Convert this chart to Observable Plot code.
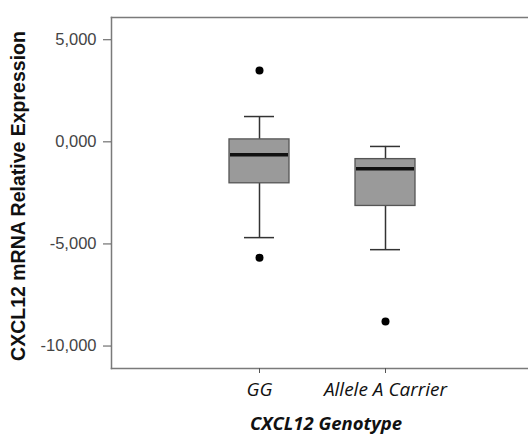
<!DOCTYPE html>
<html><head><meta charset="utf-8">
<script src="https://cdn.jsdelivr.net/npm/d3@7"></script>
<script src="https://cdn.jsdelivr.net/npm/@observablehq/plot@0.6"></script>
<style>body{margin:0;background:#fff;overflow:hidden}</style>
</head><body><div id="c"></div>
<script>
const groups = ["GG", "Allele A Carrier"];
const q1 = [-2030, -3140];
const median = [-635, -1320];
const q3 = [120, -845];
const whiskerLow = [-4690, -5280];
const whiskerHigh = [1240, -225];
const outlierGroup = ["GG", "GG", "Allele A Carrier"];
const outlierValue = [3500, -5670, -8800];
const yTicks = [5000, 0, -5000, -10000];
const yTickLabels = ["5,000", "0,000", "-5,000", "-10,000"];
const xTitle = "CXCL12 Genotype";
const yTitle = "CXCL12 mRNA Relative Expression";

const rows = groups.map((g, i) => ({g, q1: q1[i], med: median[i], q3: q3[i], lo: whiskerLow[i], hi: whiskerHigh[i]}));
const outs = outlierGroup.map((g, i) => ({g, v: outlierValue[i]}));

const frameStyle = {stroke: "#7a7a7a", strokeWidth: 1.5};
const chart = Plot.plot({
  width: 528, height: 435,
  marginTop: 17, marginBottom: 67, marginLeft: 111, marginRight: 0,
  style: {background: "#fff", fontFamily: "'Liberation Sans', Arial, sans-serif"},
  x: {domain: groups, range: [229, 415], paddingInner: 0.524, paddingOuter: 0, axis: null},
  y: {domain: [-11100, 6090], axis: null},
  marks: [
    Plot.frame({anchor: "left", ...frameStyle}),
    Plot.frame({anchor: "top", ...frameStyle}),
    Plot.frame({anchor: "bottom", ...frameStyle}),
    Plot.axisY({ticks: yTicks, tickFormat: d => yTickLabels[yTicks.indexOf(d)], tickSize: 8, tickPadding: 7,
      fontSize: 16.5, stroke: "#555", fill: "#444", label: null}),
    Plot.axisX({tickSize: 5, tickPadding: 9, fontSize: 19, fontStyle: "italic",
      fontFamily: "'Open Sans', sans-serif", stroke: "#555", fill: "#111", label: null}),
    Plot.ruleX(rows, {x: "g", y1: "q3", y2: "hi", stroke: "#333", strokeWidth: 1.5}),
    Plot.ruleX(rows, {x: "g", y1: "q1", y2: "lo", stroke: "#333", strokeWidth: 1.5}),
    Plot.tickY(rows, {x: "g", y: "hi", inset: 15, stroke: "#333", strokeWidth: 1.5}),
    Plot.tickY(rows, {x: "g", y: "lo", inset: 15, stroke: "#333", strokeWidth: 1.5}),
    Plot.barY(rows, {x: "g", y1: "q1", y2: "q3", fill: "#9a9a9a", stroke: "#555", strokeWidth: 1.3}),
    Plot.tickY(rows, {x: "g", y: "med", stroke: "#111", strokeWidth: 3.5, inset: 1}),
    Plot.dot(outs, {x: "g", y: "v", r: 4, fill: "#000", stroke: "none"}),
    Plot.text([xTitle], {frameAnchor: "bottom", dx: 6, dy: 61, fontSize: 18.5, fontWeight: "bold",
      fontStyle: "italic", fontFamily: "'Open Sans', sans-serif", fill: "#111"}),
    Plot.text([yTitle], {frameAnchor: "left", textAnchor: "middle", dx: -93, dy: 3, rotate: -90, fontSize: 19.5,
      fontWeight: "bold", fill: "#111"})
  ]
});
document.getElementById("c").appendChild(chart);
</script></body></html>
